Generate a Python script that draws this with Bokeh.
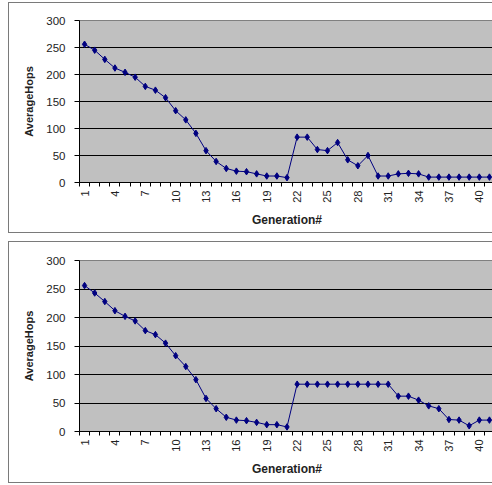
from bokeh.plotting import figure
from bokeh.layouts import column
from bokeh.models import FixedTicker, Range1d
from bokeh.embed import file_html
from bokeh.resources import INLINE

generations = [1, 2, 3, 4, 5, 6, 7, 8, 9, 10, 11, 12, 13, 14, 15, 16, 17, 18, 19, 20,
               21, 22, 23, 24, 25, 26, 27, 28, 29, 30, 31, 32, 33, 34, 35, 36, 37, 38, 39, 40, 41]

hops_top = [256, 245, 228, 212, 204, 195, 178, 171, 157, 133, 116, 91, 59, 39, 26, 21, 20,
            16, 12, 12, 9, 84, 84, 61, 59, 74, 42, 31, 50, 12, 12, 16, 17, 16, 10, 10,
            10, 10, 10, 10, 10]

hops_bottom = [256, 243, 228, 212, 202, 194, 177, 170, 155, 133, 114, 91, 58, 40, 25, 20, 19,
               16, 12, 12, 8, 83, 83, 83, 83, 83, 83, 83, 83, 83, 83, 62, 62, 55, 45, 40,
               21, 20, 10, 20, 20]

x_tick_labels = [1, 4, 7, 10, 13, 16, 19, 22, 25, 28, 31, 34, 37, 40]
y_ticks = [0, 50, 100, 150, 200, 250, 300]

FONT = "Liberation Sans"
NAVY = "#000080"
PANEL_BORDER = "1px solid #7a7a7a"


def make_chart(values, frame_h, top_pad, bottom_pad, margin):
    p = figure(width=484, height=top_pad + frame_h + bottom_pad,
               frame_width=414, frame_height=frame_h,
               min_border_left=70, min_border_right=0,
               min_border_top=top_pad, min_border_bottom=bottom_pad,
               x_range=Range1d(0.5, len(generations) + 0.5),
               y_range=Range1d(0, 300),
               output_backend="svg", toolbar_location=None,
               background_fill_color="#c0c0c0", border_fill_color="white",
               outline_line_color="#808080", outline_line_width=1)
    p.margin = margin
    p.styles = {"border-left": PANEL_BORDER, "border-top": PANEL_BORDER,
                "border-bottom": PANEL_BORDER}

    # grid
    p.xgrid.grid_line_color = None
    p.ygrid.ticker = FixedTicker(ticks=y_ticks)
    p.ygrid.grid_line_color = "black"
    p.ygrid.grid_line_width = 1

    # x axis (category style: ticks between categories)
    boundaries = [g - 0.5 for g in generations] + [generations[-1] + 0.5]
    p.xaxis.ticker = FixedTicker(ticks=x_tick_labels, minor_ticks=boundaries)
    p.xaxis.major_tick_out = 0
    p.xaxis.major_tick_in = 0
    p.xaxis.minor_tick_out = 4
    p.xaxis.minor_tick_in = 0
    p.xaxis.minor_tick_line_color = "black"
    p.xaxis.axis_line_color = "black"
    p.xaxis.major_label_orientation = 1.5708
    p.xaxis.major_label_standoff = 4
    p.xaxis.major_label_text_font = FONT
    p.xaxis.major_label_text_font_size = "11px"
    p.xaxis.major_label_text_color = "#222222"
    p.xaxis.axis_label = "Generation#"
    p.xaxis.axis_label_text_font = FONT
    p.xaxis.axis_label_text_font_style = "bold"
    p.xaxis.axis_label_text_font_size = "12px"
    p.xaxis.axis_label_text_color = "#222222"
    p.xaxis.axis_label_standoff = 7

    # y axis
    p.yaxis.ticker = FixedTicker(ticks=y_ticks)
    p.yaxis.major_tick_out = 5
    p.yaxis.major_tick_in = 0
    p.yaxis.minor_tick_out = 0
    p.yaxis.minor_tick_in = 0
    p.yaxis.axis_line_color = "black"
    p.yaxis.major_tick_line_color = "black"
    p.yaxis.major_label_standoff = 9
    p.yaxis.major_label_text_font = FONT
    p.yaxis.major_label_text_font_size = "11.5px"
    p.yaxis.major_label_text_color = "#222222"
    p.yaxis.axis_label = "AverageHops"
    p.yaxis.axis_label_text_font = FONT
    p.yaxis.axis_label_text_font_style = "bold"
    p.yaxis.axis_label_text_font_size = "11px"
    p.yaxis.axis_label_text_color = "#222222"
    p.yaxis.axis_label_standoff = 8

    p.line(generations, values, line_color=NAVY, line_width=1)
    p.scatter(generations, values, marker="diamond", size=6.5,
              fill_color=NAVY, line_color=NAVY)
    return p


top = make_chart(hops_top, 160, 17, 52, (2, 0, 0, 8))
bottom = make_chart(hops_bottom, 169, 18, 53, (8, 0, 0, 8))

layout = column(top, bottom, spacing=0)
open("out.html", "w").write(file_html(layout, INLINE))
